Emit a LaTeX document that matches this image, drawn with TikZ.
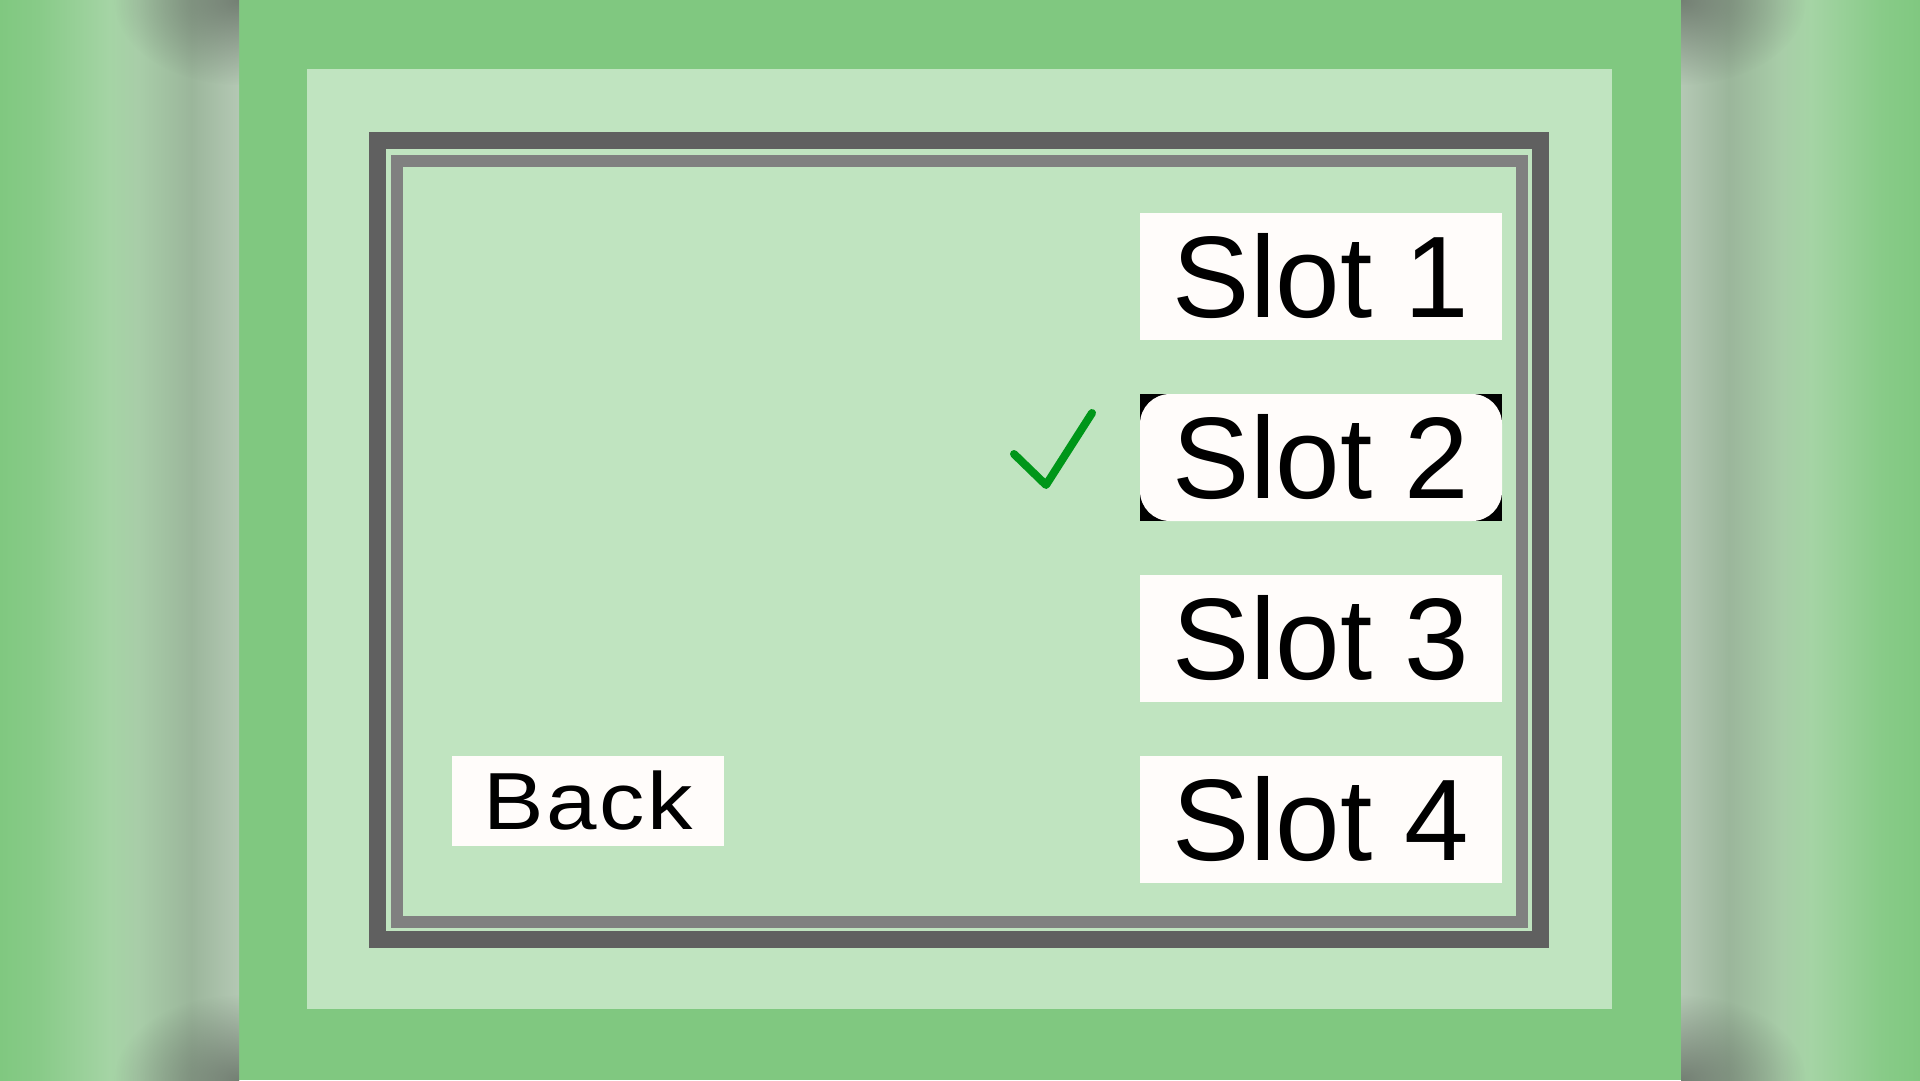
\documentclass[tikz,border=0pt]{standalone}
\usepackage{fontspec}
\setmainfont{Liberation Sans}
\usepackage{tikz,xcolor}
\usetikzlibrary{fadings}
\definecolor{bg green}{RGB}{128,200,128}
\definecolor{panel green}{RGB}{192,228,192}
\definecolor{frame dark}{RGB}{96,96,96}
\definecolor{frame grey}{RGB}{128,128,128}
\definecolor{box white}{RGB}{255,252,250}
\definecolor{tick green}{RGB}{0,150,25}
\definecolor{pillar shadow}{RGB}{100,110,100}
\definecolor{pl0}{RGB}{128,200,128}
\definecolor{pl1}{RGB}{136,203,136}
\definecolor{pl2}{RGB}{165,212,165}
\definecolor{pl3}{RGB}{168,205,168}
\definecolor{pl4}{RGB}{155,182,155}
\definecolor{pl5}{RGB}{180,200,180}
\pgfdeclarehorizontalshading{pillarleft}{100bp}{color(0bp)=(pl0); color(25bp)=(pl0);
    color(33bp)=(pl1); color(48bp)=(pl2); color(54bp)=(pl3); color(65bp)=(pl4);
    color(75bp)=(pl5); color(100bp)=(pl5)}
\pgfdeclarehorizontalshading{pillarright}{100bp}{color(0bp)=(pl5); color(25bp)=(pl5);
    color(35bp)=(pl4); color(46bp)=(pl3); color(52bp)=(pl2); color(67bp)=(pl1);
    color(75bp)=(pl0); color(100bp)=(pl0)}
\tikzfading[name=corner fade, inner color=transparent!20, outer color=transparent!100]
\tikzstyle{slot} = [fill=box white, minimum width=362, minimum height=127, inner sep=0pt,
    font=\fontsize{116}{116}\selectfont]
\tikzstyle{back} = [fill=box white, minimum width=272, minimum height=90, inner sep=0pt,
    font=\fontsize{81}{81}\selectfont\addfontfeature{FakeStretch=1.12,LetterSpace=3}]
\tikzset{dark frame/.style={draw=frame dark, line width=17},
    grey frame/.style={draw=frame grey, line width=12},
    tick/.style={draw=tick green, line width=8, line cap=round, line join=round}}

\begin{document}
\begin{tikzpicture}[x=1pt,y=-1pt]
    % Definition of the areas
    \def\screen{(0,0) rectangle (1920,1080)}
    \def\leftpillar{(0,0) rectangle (239,1080)}
    \def\rightpillar{(1681,0) rectangle (1920,1080)}
    \def\panel{(307,69) rectangle (1612,1009)}
    %
    \useasboundingbox \screen;
    \fill[bg green] \screen;
    \begin{scope}
        \clip \leftpillar;
        \shade[shading=pillarleft] \leftpillar;
        \fill[pillar shadow, path fading=corner fade] (239,0) ellipse (125 and 85);
        \fill[pillar shadow, path fading=corner fade] (239,1080) ellipse (125 and 85);
    \end{scope}
    \begin{scope}
        \clip \rightpillar;
        \shade[shading=pillarright] \rightpillar;
        \fill[pillar shadow, path fading=corner fade] (1681,0) ellipse (125 and 85);
        \fill[pillar shadow, path fading=corner fade] (1681,1080) ellipse (125 and 85);
    \end{scope}
    \fill[panel green] \panel;
    \draw[dark frame] (377.5,140.5) rectangle (1540.5,939.5);
    \draw[grey frame] (397,161) rectangle (1522,922);
    % the slots
    \node[slot] (slot1) at (1321,276.5) {Slot 1};
    \node[slot, fill=black] (pick) at (1321,457.5) {};
    \node[slot, rounded corners=30pt] (slot2) at (pick) {Slot 2};
    \node[slot] (slot3) at (1321,638.5) {Slot 3};
    \node[slot] (slot4) at (1321,819.5) {Slot 4};
    \node[back] (back) at (588,801) {Back};
    \draw[tick] (1014,454) -- (1046,485) -- (1092,413);
\end{tikzpicture}
\end{document}
